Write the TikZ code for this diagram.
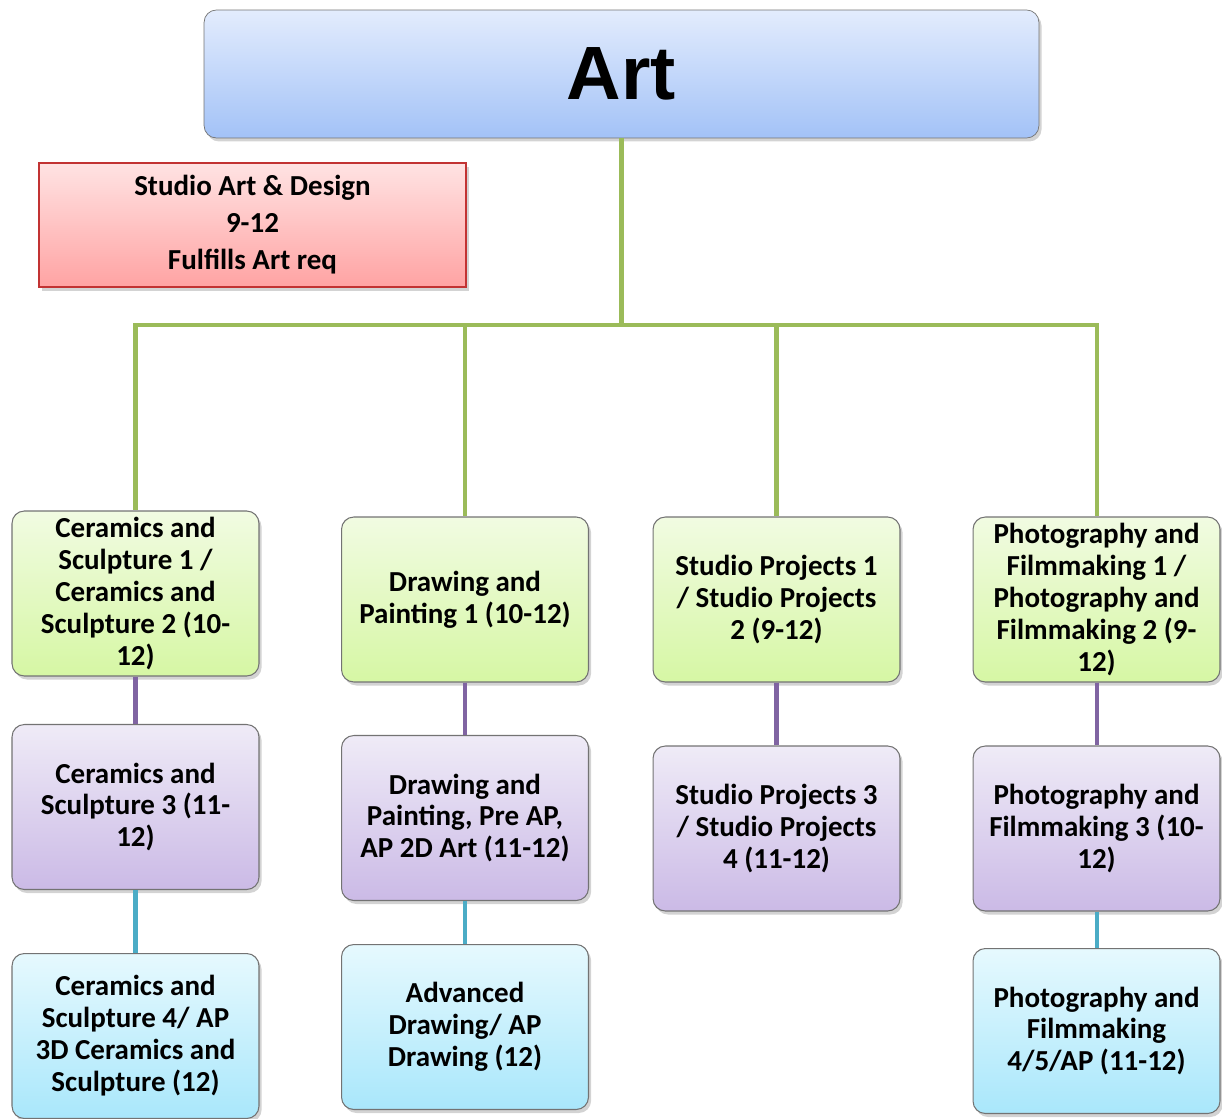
\documentclass[tikz,border=0pt]{standalone}
\usepackage{fontspec}
\setmainfont{Carlito}
\newfontfamily\headfont{Liberation Sans}
\usetikzlibrary{shadows}

\definecolor{linkgreen}{HTML}{9BBB59}
\definecolor{linkpurple}{HTML}{8064A2}
\definecolor{linkteal}{HTML}{4BACC6}
\definecolor{greentop}{HTML}{F1FBE2}
\definecolor{greenbot}{HTML}{D6F7A4}
\definecolor{purpletop}{HTML}{EFEBF7}
\definecolor{purplebot}{HTML}{CBBAE6}
\definecolor{bluetop}{HTML}{E6F9FE}
\definecolor{bluebot}{HTML}{A9E7FB}
\definecolor{arttop}{HTML}{E3ECFD}
\definecolor{artbot}{HTML}{A3C2F7}
\definecolor{notetop}{HTML}{FFE3E3}
\definecolor{notebot}{HTML}{FFA3A3}

\tikzset{course/.style = {draw = black!55, line width = 0.6pt, rounded corners = 7pt,
                          minimum width = 4.94cm, minimum height = 3.3cm, inner sep = 1pt,
                          align = center, font = \fontsize{16.5}{18.2}\selectfont\bfseries,
                          drop shadow = {opacity = 0.35, shadow xshift = 1.5pt, shadow yshift = -2pt}},
         firstyear/.style = {course, top color = greentop, bottom color = greenbot},
         secondyear/.style = {course, top color = purpletop, bottom color = purplebot},
         thirdyear/.style = {course, top color = bluetop, bottom color = bluebot},
         link/.style = {line width = 2.3pt, color = #1},
         link/.default = linkgreen
        }

\begin{document}
\begin{tikzpicture}[x = 0.02cm, y = -0.02cm]
  \useasboundingbox (0, 0) rectangle (1222, 1118);

  % header and note
  \node[draw = black!55, rounded corners = 7pt, minimum width = 16.7cm, minimum height = 2.56cm,
        top color = arttop, bottom color = artbot,
        drop shadow = {opacity = 0.35, shadow xshift = 1.5pt, shadow yshift = -2pt}]
       (art) at (621.5, 74) {\headfont\bfseries\fontsize{43}{46}\selectfont Art};
  \node[draw = red!70!black!80, line width = 0.8pt, minimum width = 8.54cm, minimum height = 2.48cm,
        top color = notetop, bottom color = notebot, align = center,
        font = \fontsize{16.5}{21}\selectfont\bfseries,
        drop shadow = {opacity = 0.35, shadow xshift = 1.5pt, shadow yshift = -2pt}]
       (studio) at (252.5, 225) {Studio Art \& Design\\ 9-12\\ Fulfills Art req};

  % first row
  \node[firstyear] (cer1) at (135.5, 593.5) {Ceramics and\\ Sculpture 1 /\\ Ceramics and\\ Sculpture 2 (10-\\ 12)};
  \node[firstyear] (draw1) at (465, 599.5) {Drawing and\\ Painting 1 (10-12)};
  \node[firstyear] (proj1) at (776.5, 599.5) {Studio Projects 1\\ / Studio Projects\\ 2 (9-12)};
  \node[firstyear] (photo1) at (1096.5, 599.5) {Photography and\\ Filmmaking 1 /\\ Photography and\\ Filmmaking 2 (9-\\ 12)};

  % second row
  \node[secondyear] (cer2) at (135.5, 807) {Ceramics and\\ Sculpture 3 (11-\\ 12)};
  \node[secondyear] (draw2) at (465, 818) {Drawing and\\ Painting, Pre AP,\\ AP 2D Art (11-12)};
  \node[secondyear] (proj2) at (776.5, 828.5) {Studio Projects 3\\ / Studio Projects\\ 4 (11-12)};
  \node[secondyear] (photo2) at (1096.5, 828.5) {Photography and\\ Filmmaking 3 (10-\\ 12)};

  % third row
  \node[thirdyear] (cer3) at (135.5, 1036) {Ceramics and\\ Sculpture 4/ AP\\ 3D Ceramics and\\ Sculpture (12)};
  \node[thirdyear] (draw3) at (465, 1027) {Advanced\\ Drawing/ AP\\ Drawing (12)};
  \node[thirdyear] (photo3) at (1096.5, 1031) {Photography and\\ Filmmaking\\ 4/5/AP (11-12)};

  % tree
  \coordinate (bus) at (621.5, 325);
  \draw[link] (art.south) -- (bus);
  \draw[link] (bus) -| (cer1.north);
  \draw[link] (bus) -| (draw1.north);
  \draw[link] (bus) -| (proj1.north);
  \draw[link] (bus) -| (photo1.north);

  \draw[link = linkpurple] (cer1.south) -- (cer2.north);
  \draw[link = linkpurple] (draw1.south) -- (draw2.north);
  \draw[link = linkpurple] (proj1.south) -- (proj2.north);
  \draw[link = linkpurple] (photo1.south) -- (photo2.north);

  \draw[link = linkteal] (cer2.south) -- (cer3.north);
  \draw[link = linkteal] (draw2.south) -- (draw3.north);
  \draw[link = linkteal] (photo2.south) -- (photo3.north);
\end{tikzpicture}
\end{document}
